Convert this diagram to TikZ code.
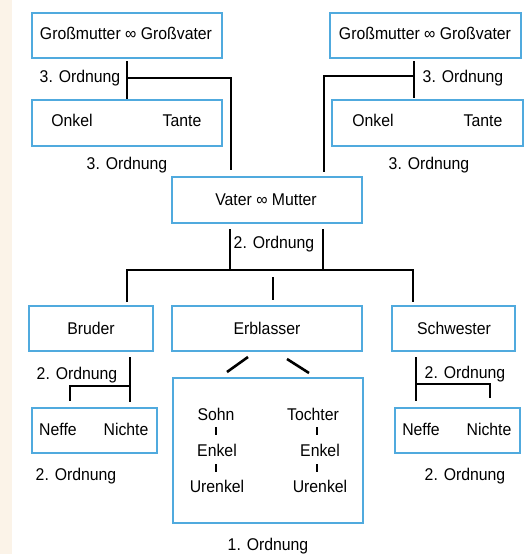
\documentclass[tikz,border=0pt]{standalone}
\usepackage{fontspec}
\setmainfont{Liberation Sans}[FakeStretch=0.93]
\usetikzlibrary{calc}
\definecolor{boxblue}{RGB}{80,170,222}
\definecolor{stripcol}{RGB}{251,243,232}
\begin{document}
\begin{tikzpicture}[x=1pt,y=-1pt,
  box/.style={draw=boxblue,line width=1.6pt,inner sep=0pt,anchor=center},
  txt/.style={inner sep=0pt,font=\fontsize{17}{20}\selectfont,text height=12.2pt,text depth=0pt},
  conn/.style={line width=2.6pt,black},
  tickline/.style={line width=2.4pt,black}]
\useasboundingbox (0,0) rectangle (526,554);
\fill[white] (0,0) rectangle (526,554);
\fill[stripcol] (0,0) rectangle (12,554);

% boxes
\node[box,minimum width=190pt,minimum height=45pt] (gmL) at (127,35.5) {};
\node[box,minimum width=191pt,minimum height=45pt] (gmR) at (425.5,35.5) {};
\node[box,minimum width=190pt,minimum height=46pt] (okL) at (127,123) {};
\node[box,minimum width=191pt,minimum height=46pt] (okR) at (427.5,123) {};
\node[box,minimum width=190pt,minimum height=46pt] (vm) at (267,200) {};
\node[box,minimum width=124pt,minimum height=45pt] (br) at (91,328.5) {};
\node[box,minimum width=190pt,minimum height=45pt] (eb) at (267,328.5) {};
\node[box,minimum width=123pt,minimum height=45pt] (sw) at (453.5,328.5) {};
\node[box,minimum width=125pt,minimum height=45pt] (nfL) at (94.5,430.5) {};
\node[box,minimum width=190pt,minimum height=145pt] (big) at (268,450.5) {};
\node[box,minimum width=125pt,minimum height=45pt] (nfR) at (457.5,430.5) {};

% texts in boxes
\node[txt] (tgmL) at (126,33) {Großmutter ∞ Großvater};
\node[txt] (tgmR) at (425,33) {Großmutter ∞ Großvater};
\node[txt] (onkL) at (72,120) {Onkel};
\node[txt] (tanL) at (182,120) {Tante};
\node[txt] (onkR) at (373,120) {Onkel};
\node[txt] (tanR) at (483,120) {Tante};
\node[txt] (tvm) at (266,199) {Vater ∞ Mutter};
\node[txt] (tbr) at (91,328) {Bruder};
\node[txt] (teb) at (267,328) {Erblasser};
\node[txt] (tsw) at (454,328) {Schwester};
\node[txt] (nefL) at (58,429) {Neffe};
\node[txt] (nicL) at (126,429) {Nichte};
\node[txt] (nefR) at (421,429) {Neffe};
\node[txt] (nicR) at (489,429) {Nichte};
\node[txt] (sohn) at (216,414) {Sohn};
\node[txt] (enk1) at (217,450) {Enkel};
\node[txt] (ure1) at (217,486) {Urenkel};
\node[txt] (toch) at (313,414) {Tochter};
\node[txt] (enk2) at (320,450) {Enkel};
\node[txt] (ure2) at (320,486) {Urenkel};

% labels
\node[txt] (l3a) at (80,76) {3. Ordnung};
\node[txt] (l3b) at (127,163) {3. Ordnung};
\node[txt] (l3c) at (463,76) {3. Ordnung};
\node[txt] (l3d) at (429,163) {3. Ordnung};
\node[txt] (l2a) at (274,242) {2. Ordnung};
\node[txt] (l2b) at (77,373) {2. Ordnung};
\node[txt] (l2c) at (76,474) {2. Ordnung};
\node[txt] (l2d) at (465,372) {2. Ordnung};
\node[txt] (l2e) at (465,474) {2. Ordnung};
\node[txt] (l1) at (268,544) {1. Ordnung};

% coordinates for connectors
\coordinate (a1) at (127,61);
\coordinate (a2) at (127,99);
\coordinate (a3) at (127,78);
\coordinate (a4) at (231,170);
\coordinate (b1) at (414,61);
\coordinate (b2) at (414,98);
\coordinate (b3) at (414,76);
\coordinate (b4) at (324,172);
\coordinate (c1) at (230,229);
\coordinate (c2) at (323,229);
\coordinate (h1) at (127,270);
\coordinate (h2) at (413,270);
\coordinate (c3) at (127,302);
\coordinate (c4) at (413,302);
\coordinate (c5) at (273,277);
\coordinate (c6) at (273,300);
\coordinate (d1) at (130,357);
\coordinate (d2) at (130,402);
\coordinate (d3) at (70,401);
\coordinate (e1) at (416,357);
\coordinate (e2) at (416,401);
\coordinate (e3) at (490,398);
\coordinate (s1a) at (227,372);
\coordinate (s1b) at (248,357);
\coordinate (s2a) at (287,359);
\coordinate (s2b) at (309,373);

% connectors
\draw[conn] (a1) -- (a2);
\draw[conn] (a3) -| (a4);
\draw[conn] (b1) -- (b2);
\draw[conn] (b3) -| (b4);
\draw[conn] (c1) -- (c1 |- h1);
\draw[conn] (c2) -- (c2 |- h1);
\draw[conn] (c3) -- (h1) -- (h2) -- (c4);
\draw[conn] (c5) -- (c6);
\draw[conn] (d1) -- (d2);
\draw[conn] (130,386) -| (d3);
\draw[conn] (e1) -- (e2);
\draw[conn] (416,384) -| (e3);
\draw[conn] (s1a) -- (s1b);
\draw[conn] (s2a) -- (s2b);

% ticks
\draw[tickline] (sohn) ++(0,13) -- ++(0,8);
\draw[tickline] (enk1) ++(-1,14) -- ++(0,8);
\draw[tickline] (toch) ++(4,13) -- ++(0,8);
\draw[tickline] (enk2) ++(-3,14) -- ++(0,8);
\end{tikzpicture}
\end{document}
